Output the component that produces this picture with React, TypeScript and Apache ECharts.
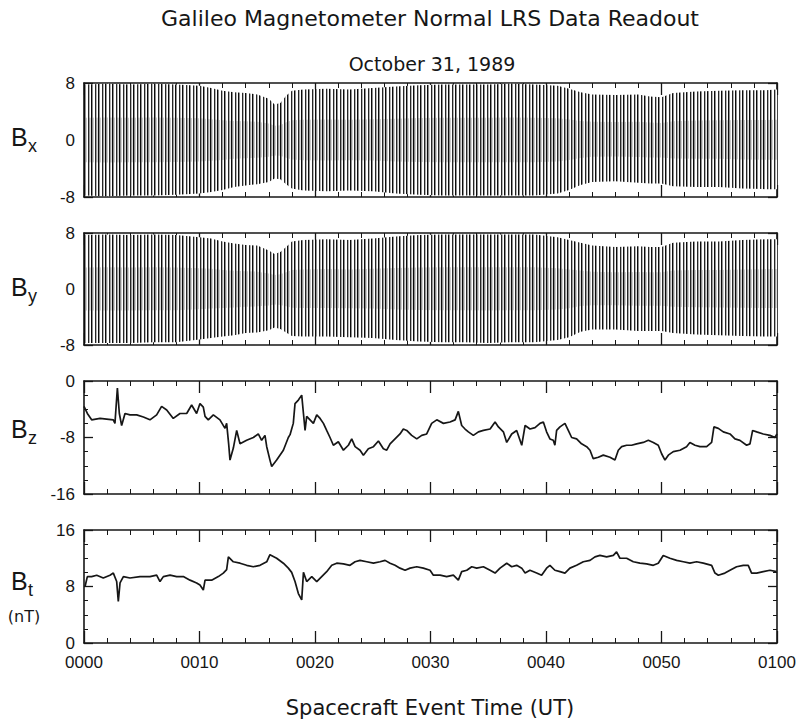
import React, { useEffect, useRef } from "react";
import * as echarts from "echarts";

const TITLE = "Galileo Magnetometer Normal LRS Data Readout";
const SUBTITLE = "October 31, 1989";
const X_TITLE = "Spacecraft Event Time (UT)";
const PANEL_LABELS = ["x", "y", "z", "t"];
const UNIT_LABEL = "(nT)";

// x axis: minutes after 00:00 UT
const X_MIN = 0;
const X_MAX = 60;
const X_STEP = 10;

// y ranges per panel [min, max]
const Y_RANGES: [number, number][] = [[-8, 8], [-8, 8], [-16, 0], [0, 16]];

// Spin-modulated Bx / By: envelope of the oscillation
const envT = [0, 2, 4, 6, 8, 10, 11, 12, 13, 14, 15, 16, 16.5, 17, 17.5, 18, 19, 21, 23, 25, 27, 29, 31, 33, 35, 37, 39, 41, 42, 43, 44, 46, 48, 49, 50, 51, 53, 55, 57, 59, 60];
const bxUpper = [7.8, 7.9, 7.8, 7.9, 7.8, 7.6, 7.3, 6.9, 6.7, 6.6, 6.4, 5.8, 5.0, 5.2, 6.2, 6.9, 7.1, 7.2, 7.1, 7.3, 7.5, 7.7, 7.8, 7.8, 7.8, 7.9, 7.8, 7.6, 7.2, 6.7, 6.4, 6.3, 6.4, 6.1, 6.0, 6.6, 6.8, 6.9, 7.0, 7.0, 7.1];
const bxLower = [-7.8, -7.9, -7.8, -7.8, -7.7, -7.5, -7.3, -7.0, -6.6, -6.4, -6.2, -5.9, -5.4, -5.5, -6.2, -6.8, -7.1, -7.2, -7.1, -7.2, -7.5, -7.7, -7.8, -7.8, -7.8, -7.8, -7.8, -7.5, -7.0, -6.3, -5.9, -5.8, -6.0, -6.1, -6.1, -6.5, -6.6, -6.6, -6.8, -6.9, -6.9];
const byUpper = [7.7, 7.8, 7.7, 7.8, 7.7, 7.4, 7.2, 6.8, 6.5, 6.3, 6.2, 5.5, 5.0, 5.3, 6.0, 6.8, 7.0, 7.1, 7.0, 7.2, 7.5, 7.7, 7.8, 7.8, 7.8, 7.8, 7.8, 7.4, 7.0, 6.6, 6.2, 6.0, 6.1, 6.0, 6.0, 6.6, 6.8, 6.8, 7.0, 7.1, 7.1];
const byLower = [-7.7, -7.7, -7.7, -7.6, -7.6, -7.2, -7.0, -6.8, -6.6, -6.3, -6.2, -5.9, -5.5, -5.7, -6.2, -6.7, -6.8, -6.8, -6.9, -7.0, -7.3, -7.5, -7.6, -7.6, -7.7, -7.6, -7.6, -7.3, -6.9, -6.1, -5.8, -5.8, -6.0, -6.0, -6.0, -6.3, -6.5, -6.6, -6.7, -6.8, -6.8];

// Bz trace [minute, nT]
const bzPoints: [number, number][] = [
  [0, -3.6], [0.29, -4.6], [0.66, -5.5], [1.39, -5.3], [1.96, -5.4], [2.54, -5.5], [2.68, -6.0], [2.89, -1.0], [3.06, -4.6], [3.26, -6.3],
  [3.55, -4.6], [3.98, -4.8], [4.56, -4.8], [5.14, -5.1], [5.71, -5.5], [6.29, -4.8], [6.72, -3.6], [7.16, -4.1], [7.73, -5.3], [8.31, -4.6],
  [8.89, -4.6], [9.32, -3.4], [9.75, -4.6], [10.04, -3.2], [10.33, -3.7], [10.48, -5.0], [10.76, -5.5], [11.2, -4.8], [11.77, -5.5], [12.21, -6.7],
  [12.35, -6.0], [12.53, -9.0], [12.64, -11.2], [12.93, -9.5], [13.22, -7.0], [13.51, -8.9], [14.08, -8.4], [14.66, -8.0], [15.09, -7.5], [15.38, -8.4],
  [15.67, -7.7], [15.82, -9.3], [16.1, -11.2], [16.25, -12.1], [16.68, -11.2], [17.26, -9.8], [17.69, -8.0], [17.84, -7.6], [17.98, -6.8], [18.12, -6.0],
  [18.27, -3.2], [18.56, -2.7], [18.85, -2.0], [19.0, -4.6], [19.14, -7.0], [19.28, -5.0], [19.57, -5.5], [19.86, -6.0], [20.15, -4.8], [20.44, -5.3],
  [20.73, -6.0], [21.01, -7.0], [21.3, -8.0], [21.59, -9.1], [22.02, -8.6], [22.46, -9.8], [22.89, -9.1], [23.18, -8.2], [23.47, -9.3], [23.9, -9.8],
  [24.19, -10.5], [24.62, -9.6], [25.06, -9.3], [25.49, -8.5], [25.92, -9.6], [26.21, -9.8], [26.5, -8.9], [26.93, -8.2], [27.36, -7.5], [27.65, -6.8],
  [27.94, -7.0], [28.37, -7.7], [28.81, -8.2], [29.24, -7.7], [29.67, -7.5], [30.1, -6.0], [30.54, -5.5], [31.12, -6.0], [31.69, -5.8], [32.13, -5.5],
  [32.41, -4.3], [32.7, -6.3], [32.99, -6.8], [33.28, -7.2], [33.71, -7.7], [34.15, -7.2], [34.58, -7.0], [35.16, -6.8], [35.59, -5.8], [35.88, -6.5],
  [36.31, -7.2], [36.6, -8.7], [37.03, -7.5], [37.46, -7.0], [37.9, -9.1], [38.19, -6.3], [38.62, -6.8], [39.05, -6.6], [39.48, -6.0], [39.77, -5.8],
  [40.05, -7.2], [40.34, -8.2], [40.63, -8.4], [40.77, -9.1], [40.92, -7.0], [41.21, -6.5], [41.64, -6.0], [41.93, -7.0], [42.22, -8.0], [42.65, -8.2],
  [43.08, -8.9], [43.52, -9.3], [43.81, -9.8], [44.09, -11.0], [44.53, -10.8], [44.96, -10.5], [45.54, -10.8], [45.97, -11.2], [46.26, -9.8], [46.55, -9.3],
  [46.98, -9.1], [47.41, -9.1], [47.85, -8.9], [48.42, -8.7], [48.86, -8.4], [49.29, -8.7], [49.72, -9.1], [50.01, -10.3], [50.3, -11.2], [50.59, -10.5],
  [51.02, -10.0], [51.6, -9.8], [52.17, -9.3], [52.46, -8.7], [52.9, -9.1], [53.33, -9.3], [53.91, -9.3], [54.34, -8.7], [54.54, -6.5], [54.92, -6.7],
  [55.35, -7.2], [55.93, -7.5], [56.36, -8.2], [56.79, -8.4], [57.37, -9.1], [57.66, -8.9], [57.89, -7.0], [58.24, -7.2], [58.81, -7.5], [59.39, -7.7],
  [59.82, -8.0], [60, -7.5],
];

// |B| trace [minute, nT]
const btPoints: [number, number][] = [
  [0.09, 8.0], [0.29, 9.4], [0.66, 9.4], [1.1, 9.6], [1.67, 9.2], [2.25, 9.6], [2.54, 9.9], [2.83, 8.7], [2.97, 5.9], [3.12, 8.5],
  [3.41, 9.4], [3.98, 9.2], [4.85, 9.4], [5.71, 9.4], [6.29, 9.6], [6.58, 8.7], [6.87, 9.4], [7.45, 9.6], [8.02, 9.4], [8.6, 9.4],
  [9.18, 8.9], [9.75, 8.5], [10.04, 8.2], [10.33, 7.5], [10.48, 8.9], [11.05, 8.9], [11.63, 9.4], [12.06, 9.9], [12.35, 10.4], [12.5, 12.2],
  [12.93, 11.5], [13.51, 11.3], [14.08, 11.0], [14.66, 10.8], [15.24, 11.0], [15.82, 11.5], [16.1, 12.5], [16.68, 12.0], [17.26, 11.3], [17.69, 10.6],
  [17.98, 10.0], [18.27, 8.7], [18.56, 7.0], [18.85, 6.1], [19.0, 10.0], [19.28, 8.7], [19.72, 9.4], [20.15, 8.7], [20.58, 9.4], [21.01, 10.1],
  [21.45, 11.0], [21.88, 11.3], [22.46, 11.2], [23.03, 11.0], [23.47, 11.5], [23.9, 11.7], [24.48, 11.5], [25.06, 11.3], [25.63, 11.5], [26.07, 11.7],
  [26.5, 11.3], [26.93, 11.0], [27.36, 10.6], [27.8, 10.3], [28.23, 10.6], [28.81, 10.8], [29.38, 10.6], [29.96, 10.3], [30.25, 9.6], [30.83, 9.6],
  [31.4, 9.4], [31.98, 9.6], [32.41, 8.9], [32.7, 10.1], [33.14, 10.3], [33.57, 10.8], [34.0, 10.6], [34.58, 10.8], [35.16, 10.3], [35.59, 9.9],
  [36.02, 10.6], [36.6, 11.3], [37.03, 10.8], [37.46, 11.0], [37.9, 10.6], [38.19, 9.9], [38.61, 10.3], [39.19, 9.9], [39.62, 9.6], [40.05, 10.6],
  [40.34, 11.0], [40.77, 10.3], [41.21, 10.1], [41.64, 9.9], [42.07, 10.6], [42.65, 11.0], [43.23, 11.5], [43.81, 11.7], [44.24, 12.2], [44.67, 12.4],
  [45.25, 12.2], [45.83, 12.4], [46.11, 12.9], [46.4, 12.0], [46.98, 12.0], [47.56, 11.5], [48.13, 11.3], [48.71, 11.2], [49.29, 11.0], [49.72, 11.3],
  [50.15, 12.4], [50.73, 12.0], [51.31, 11.7], [51.89, 11.5], [52.46, 11.3], [53.04, 11.5], [53.62, 11.3], [54.34, 11.0], [54.63, 9.9], [54.92, 9.6],
  [55.49, 9.9], [55.93, 10.3], [56.5, 10.8], [57.08, 11.0], [57.51, 11.0], [57.8, 9.9], [58.24, 9.9], [58.81, 10.1], [59.39, 10.3], [59.97, 10.1],
];

const INK = "#161616";
const SANS = "'Liberation Sans', Arial, sans-serif";
const WIDE = "'DejaVu Sans', sans-serif";

const GRIDS = [
  { top: 83, height: 114 },
  { top: 233, height: 112 },
  { top: 381, height: 113 },
  { top: 530, height: 113 },
];
const PLOT_LEFT = 84;
const PLOT_RIGHT = 777;

function fmtTime(v: number): string {
  const h = Math.floor(v / 60);
  const m = Math.round(v - h * 60);
  return String(h).padStart(2, "0") + String(m).padStart(2, "0");
}

function makeStripe(cols: [number, string][]): string {
  const c = document.createElement("canvas");
  c.width = 7;
  c.height = 4;
  const ctx = c.getContext("2d")!;
  ctx.fillStyle = "#ffffff";
  ctx.fillRect(0, 0, 7, 4);
  cols.forEach(([x, col]) => {
    ctx.fillStyle = col;
    ctx.fillRect(x, 0, 1, 4);
  });
  return c.toDataURL();
}

export default function App() {
  const ref = useRef<HTMLDivElement>(null);
  useEffect(() => {
    const el = ref.current!;
    const chart = echarts.init(el, null, { renderer: "svg", width: 800, height: 721 });
    const outerPattern: any = {
      image: makeStripe([[0, "#0c0c0c"], [1, "#909090"], [4, "#262626"], [5, "#b4b4b4"]]),
      repeat: "repeat", imageWidth: 7, imageHeight: 4,
    };
    const innerPattern: any = {
      image: makeStripe([[0, "#0c0c0c"], [1, "#8a8a8a"], [2, "#cfcfcf"], [4, "#262626"], [5, "#9a9a9a"], [6, "#dadada"]]),
      repeat: "repeat", imageWidth: 7, imageHeight: 4,
    };

    const grid = GRIDS.map((g) => ({ left: PLOT_LEFT, right: 800 - PLOT_RIGHT, top: g.top, height: g.height, containLabel: false }));

    const xAxis: any[] = [];
    const yAxis: any[] = [];
    GRIDS.forEach((_, gi) => {
      ["bottom", "top"].forEach((pos) => {
        xAxis.push({
          type: "value",
          gridIndex: gi,
          position: pos,
          min: X_MIN,
          max: X_MAX,
          interval: X_STEP,
          axisLine: { show: true, onZero: false, lineStyle: { color: INK, width: 1.6 } },
          axisTick: { show: true, inside: true, length: 12, lineStyle: { color: INK, width: 1.3 } },
          minorTick: { show: true, splitNumber: 5, length: 5, lineStyle: { color: INK, width: 1 } },
          splitLine: { show: false },
          minorSplitLine: { show: false },
          axisLabel: {
            show: gi === 3 && pos === "bottom",
            formatter: fmtTime,
            fontSize: 17,
            color: INK,
            fontFamily: SANS,
            margin: 11,
          },
        });
      });
      const [mn, mx] = Y_RANGES[gi];
      ["left", "right"].forEach((pos) => {
        yAxis.push({
          type: "value",
          gridIndex: gi,
          position: pos,
          min: mn,
          max: mx,
          interval: 8,
          axisLine: { show: true, onZero: false, lineStyle: { color: INK, width: 1.6 } },
          axisTick: { show: true, inside: true, length: 9, lineStyle: { color: INK, width: 1.3 } },
          minorTick: { show: true, splitNumber: 4, length: 4, lineStyle: { color: INK, width: 1 } },
          splitLine: { show: false },
          minorSplitLine: { show: false },
          axisLabel: {
            show: pos === "left",
            fontSize: 17,
            color: INK,
            fontFamily: SANS,
            margin: 9,
          },
        });
      });
    });

    // envelope band: outer hatched polygon + slightly denser core (style only)
    const bandSeries = (gi: number, upper: number[], lower: number[], name: string) => ({
      type: "custom",
      name,
      coordinateSystem: "cartesian2d",
      xAxisIndex: gi * 2,
      yAxisIndex: gi * 2,
      data: envT.map((t, i) => [t, lower[i], upper[i]]),
      encode: { x: 0, y: [1, 2] },
      silent: true,
      clip: true,
      renderItem: (params: any, api: any) => {
        if (params.dataIndexInside !== 0) return null;
        const n = params.dataInsideLength;
        const top: number[][] = [];
        const bot: number[][] = [];
        const itop: number[][] = [];
        const ibot: number[][] = [];
        for (let j = 0; j < n; j++) {
          const t = api.value(0, j);
          const lo = api.value(1, j);
          const hi = api.value(2, j);
          top.push(api.coord([t, hi]));
          bot.push(api.coord([t, lo]));
          itop.push(api.coord([t, hi * 0.4]));
          ibot.push(api.coord([t, lo * 0.4]));
        }
        return {
          type: "group",
          children: [
            { type: "polygon", shape: { points: top.concat(bot.reverse()) }, style: { fill: outerPattern, stroke: null } },
            { type: "polygon", shape: { points: itop.concat(ibot.reverse()) }, style: { fill: innerPattern, stroke: null } },
          ],
        };
      },
    });

    const traceSeries = (gi: number, pts: [number, number][], name: string) => ({
      type: "line",
      name,
      xAxisIndex: gi * 2,
      yAxisIndex: gi * 2,
      data: pts,
      showSymbol: false,
      lineStyle: { color: INK, width: 1.7 },
      silent: true,
    });

    const labelY = [137, 287, 429, 581];
    const graphic: any[] = [
      { type: "text", x: 430, y: 18, style: { text: TITLE, font: `22px ${WIDE}`, fill: INK, textAlign: "center", textVerticalAlign: "middle" } },
      { type: "text", x: 432, y: 64, style: { text: SUBTITLE, font: `19px ${WIDE}`, fill: INK, textAlign: "center", textVerticalAlign: "middle" } },
      { type: "text", x: 430, y: 708, style: { text: X_TITLE, font: `21px ${WIDE}`, fill: INK, textAlign: "center", textVerticalAlign: "middle" } },
      { type: "text", x: 24, y: 616, style: { text: UNIT_LABEL, font: `16px ${WIDE}`, fill: INK, textAlign: "center", textVerticalAlign: "middle" } },
    ];
    PANEL_LABELS.forEach((s, i) => {
      graphic.push({ type: "text", x: 11, y: labelY[i], style: { text: "B", font: `25px ${SANS}`, fill: INK, textAlign: "left", textVerticalAlign: "middle" } });
      graphic.push({ type: "text", x: 28, y: labelY[i] + 9, style: { text: s, font: `18px ${SANS}`, fill: INK, textAlign: "left", textVerticalAlign: "middle" } });
    });

    chart.setOption({
      animation: false,
      backgroundColor: "#ffffff",
      grid,
      xAxis,
      yAxis,
      series: [
        bandSeries(0, bxUpper, bxLower, "Bx"),
        bandSeries(1, byUpper, byLower, "By"),
        traceSeries(2, bzPoints, "Bz"),
        traceSeries(3, btPoints, "Bt"),
      ],
      graphic,
    });
    return () => chart.dispose();
  }, []);
  return (
    <div
      ref={ref}
      style={{ position: "fixed", left: 0, top: 0, width: 800, height: 721, background: "#fff" }}
    />
  );
}
